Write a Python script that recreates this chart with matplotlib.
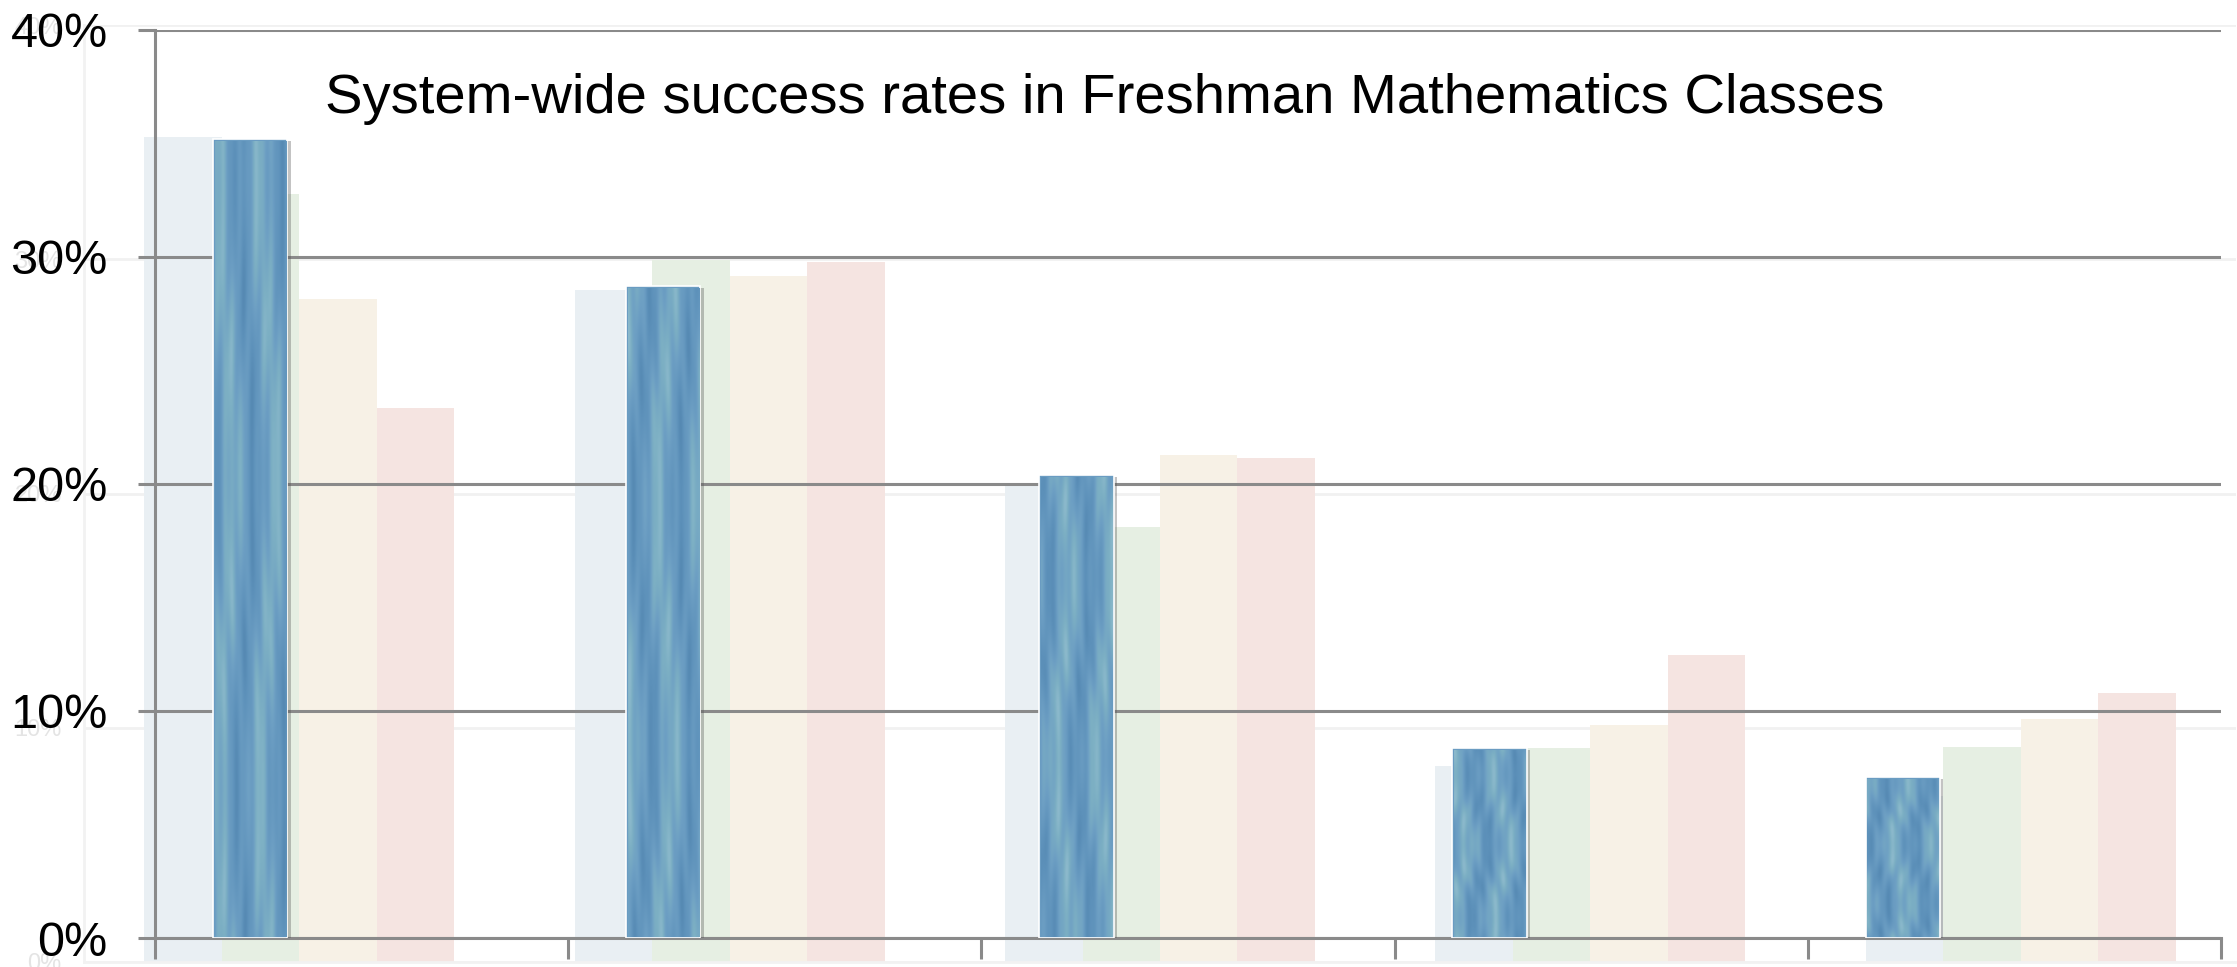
import numpy as np
import matplotlib
matplotlib.use("Agg")
import matplotlib.pyplot as plt
from matplotlib.colors import LinearSegmentedColormap
import matplotlib.patheffects as pe

# ---------------- data ----------------
categories = ["Group 1", "Group 2", "Group 3", "Group 4", "Group 5"]
series_1 = [35.2, 28.7, 20.4, 8.35, 7.1]    # highlighted (textured blue)
series_2 = [32.8, 29.95, 18.55, 9.15, 9.17]
series_3 = [28.3, 29.3, 21.65, 10.12, 10.36]
series_4 = [23.65, 29.9, 21.5, 13.1, 11.5]
y_ticks = [0, 10, 20, 30, 40]
y_tick_labels = ["0%", "10%", "20%", "30%", "40%"]
title = "System-wide success rates in Freshman Mathematics Classes"

all_series = [series_1, series_2, series_3, series_4]
faded_colors = ["#e9eff3", "#e6efe3", "#f7f1e6", "#f5e4e1"]

W, H = 2237, 967
fig = plt.figure(figsize=(W / 100, H / 100), dpi=100)
fig.patch.set_facecolor("white")

x = np.arange(len(categories))
bw = 0.18
offsets = [-1.5, -0.5, 0.5, 1.5]

# ---------------- faded background chart ----------------
bg = fig.add_axes([84 / W, 5 / H, 2152 / W, 937 / H])
bg.set_zorder(0)
bg.set_xlim(-0.5, len(categories) - 0.5)
bg.set_ylim(0, 40)
for s, c, o in zip(all_series, faded_colors, offsets):
    bg.bar(x + o * bw, s, width=bw, color=c, edgecolor="none", zorder=2)
bg.set_yticks(y_ticks)
bg.set_yticklabels(y_tick_labels)
bg.tick_params(axis="y", length=0, pad=16, labelsize=17, labelcolor="#e4e4e4")
bg.tick_params(axis="x", length=0, labelbottom=False)
bg.grid(axis="y", color="#f1f1f1", linewidth=2)
bg.set_axisbelow(True)
for k in ["top", "right"]:
    bg.spines[k].set_visible(False)
for k in ["left", "bottom"]:
    bg.spines[k].set_color("#f2f2f2")
    bg.spines[k].set_linewidth(2)
for lab in bg.get_yticklabels():
    lab.set_fontfamily("Liberation Sans")

# ---------------- foreground chart ----------------
ax = fig.add_axes([155 / W, 1 - 938 / H, (2221 - 155) / W, (938 - 29.6) / H])
ax.set_zorder(1)
ax.patch.set_alpha(0)
ax.set_xlim(-0.5, len(categories) - 0.5)
ax.set_ylim(0, 40)

cmap = LinearSegmentedColormap.from_list(
    "paint", ["#4e81ab", "#5d91ba", "#6c9ec3", "#7db0c4", "#9cc3d4"])
ny, nx = 300, 80
yy, xx = np.mgrid[0:1:ny * 1j, 0:1:nx * 1j]

bars = ax.bar(x + offsets[0] * bw, series_1, width=bw, color="#6a9cc2",
              edgecolor="white", linewidth=1.2, zorder=3)
for i, b in enumerate(bars):
    b.set_path_effects([pe.SimplePatchShadow(offset=(2.5, -1.5), alpha=0.35,
                                             shadow_rgbFace="#555555"),
                        pe.Normal()])
    ph = i * 0.37
    warp = 0.12 * np.sin(2 * np.pi * (1.3 * yy + ph))
    tex = (0.5
           + 0.22 * np.sin(2 * np.pi * (1.7 * (xx + warp) + ph))
           + 0.10 * np.sin(2 * np.pi * (4.2 * (xx - warp) + 0.3 * yy + 2 * ph))
           + 0.05 * np.sin(2 * np.pi * (9.0 * xx + 0.2 * yy)))
    x0 = b.get_x()
    im = ax.imshow(tex, cmap=cmap, vmin=0, vmax=1, origin="lower",
                   extent=(x0 + 0.004, x0 + b.get_width() - 0.004, 0.05,
                           b.get_height() - 0.1),
                   aspect="auto", interpolation="bilinear", zorder=3.5)
    im.set_clip_path(b)
ax.set_xlim(-0.5, len(categories) - 0.5)
ax.set_ylim(0, 40)

ax.set_yticks(y_ticks)
ax.set_yticklabels(y_tick_labels)
ax.set_xticks(np.arange(len(categories) + 1) - 0.5)
ax.set_xticklabels([])
grid_c = "#8a8a8a"
ax.grid(axis="y", color=grid_c, linewidth=2.2)
ax.set_axisbelow(True)
ax.tick_params(axis="y", direction="out", length=12, width=2.2, color=grid_c,
               pad=22, labelsize=35, labelcolor="black")
ax.tick_params(axis="x", direction="out", length=15, width=2.2, color=grid_c)
for k in ["top", "right"]:
    ax.spines[k].set_visible(False)
for k in ["left", "bottom"]:
    ax.spines[k].set_color(grid_c)
    ax.spines[k].set_linewidth(2.2)
for lab in ax.get_yticklabels():
    lab.set_fontfamily("Liberation Sans")

fig.text(325 / W, 1 - 113 / H, title, fontsize=40.5, family="Liberation Sans",
         color="black", ha="left", va="baseline")

fig.savefig("out.png", dpi=100, facecolor="white")
